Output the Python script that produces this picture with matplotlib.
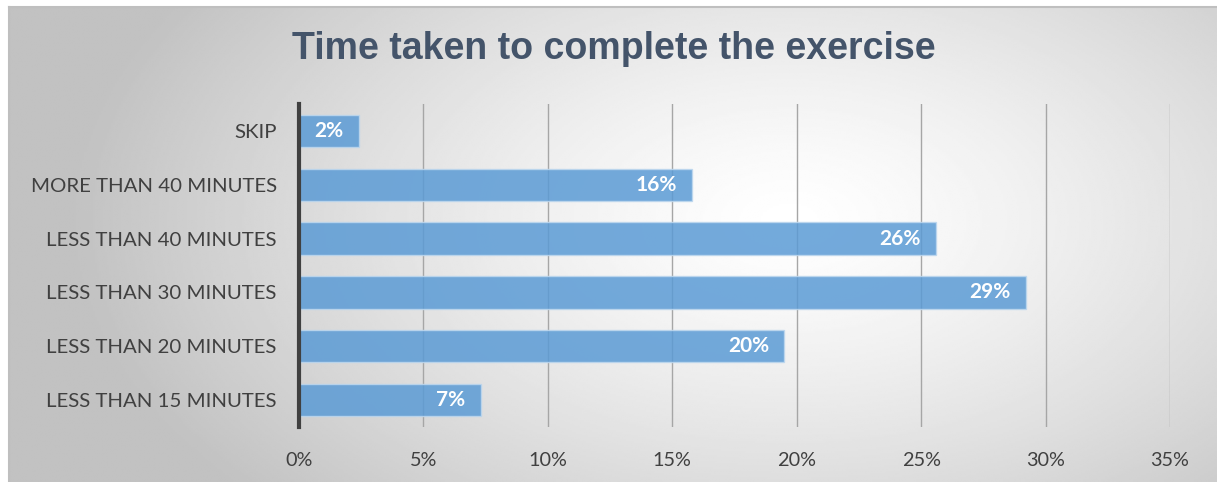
import numpy as np
import matplotlib
matplotlib.use("Agg")
import matplotlib.pyplot as plt
from matplotlib.ticker import FuncFormatter

# Share of respondents (%) per completion-time bucket
categories = [
    "LESS THAN 15 MINUTES",
    "LESS THAN 20 MINUTES",
    "LESS THAN 30 MINUTES",
    "LESS THAN 40 MINUTES",
    "MORE THAN 40 MINUTES",
    "SKIP",
]
shares = [7.3, 19.5, 29.2, 25.6, 15.8, 2.4]
x_ticks = [0, 5, 10, 15, 20, 25, 30, 35]

W, H, DPI = 1217, 482, 100
fig = plt.figure(figsize=(W / DPI, H / DPI), dpi=DPI)
fig.patch.set_facecolor("white")

# Chart-area background: radial grey-to-white gradient inside a thin frame
fx0, fy0, fx1, fy1 = 9, 7, 1217, 482
bg = fig.add_axes([fx0 / W, 1 - fy1 / H, (fx1 - fx0) / W, (fy1 - fy0) / H])
bg.set_zorder(0)
nx, ny = 600, 240
gx = np.linspace(fx0, fx1, nx)
gy = np.linspace(fy0, fy1, ny)
GX, GY = np.meshgrid(gx, gy)
cx, cy = 790, 220
r = np.sqrt(((GX - cx) / 720) ** 2 + ((GY - cy) / 420) ** 2)
r = np.clip(r, 0, 1)
shade = 1.0 - 0.24 * r ** 1.3
bg.imshow(shade, cmap="gray", vmin=0, vmax=1, aspect="auto",
          extent=[0, 1, 0, 1], origin="upper", interpolation="bilinear")
bg.set_xlim(0, 1)
bg.set_ylim(0, 1)
for side, sp in bg.spines.items():
    sp.set_color("#BFBFBF")
    sp.set_linewidth(1.5)
bg.spines["right"].set_visible(False)
bg.spines["bottom"].set_visible(False)
bg.set_xticks([])
bg.set_yticks([])

# Plot area
ax_l, ax_r, ax_t, ax_b = 299, 1170, 104, 427
ax = fig.add_axes([ax_l / W, 1 - ax_b / H, (ax_r - ax_l) / W, (ax_b - ax_t) / H])
ax.set_zorder(1)
ax.patch.set_alpha(0)

ypos = np.arange(len(categories))
bars = ax.barh(ypos, shares, height=0.6, color="#5B9BD5", alpha=0.85,
               edgecolor="#BDD7EE", linewidth=1.0, zorder=3)

for y, v in zip(ypos, shares):
    ax.annotate(f"{v:.0f}%", xy=(v, y), xytext=(-11, 0),
                textcoords="offset points", ha="right", va="center",
                color="white", fontsize=15, fontweight="bold",
                family="Lato", zorder=4)

ax.set_xlim(0, 35)
ax.set_ylim(-0.5, len(categories) - 0.5)
ax.set_xticks(x_ticks)
ax.xaxis.set_major_formatter(FuncFormatter(lambda v, p: f"{v:.0f}%"))
ax.set_yticks(ypos)
ax.set_yticklabels(categories)
ax.grid(axis="x", color="#A6A6A6", linewidth=1.0, zorder=1)
ax.set_axisbelow(True)

for name in ("top", "right", "bottom"):
    ax.spines[name].set_visible(False)
ax.spines["left"].set_color("#404040")
ax.spines["left"].set_linewidth(3)
ax.spines["left"].set_zorder(5)

ax.tick_params(axis="both", length=0, labelcolor="#404040")
ax.tick_params(axis="x", pad=18, labelsize=14.3)
ax.tick_params(axis="y", pad=16, labelsize=14.7)
for lab in ax.get_xticklabels() + ax.get_yticklabels():
    lab.set_family("Lato")

fig.text(614 / W, 1 - 49 / H, "Time taken to complete the exercise",
         ha="center", va="center", fontsize=27, fontweight="bold",
         family="Liberation Sans", color="#44546A")

fig.savefig("out.png", dpi=DPI)
